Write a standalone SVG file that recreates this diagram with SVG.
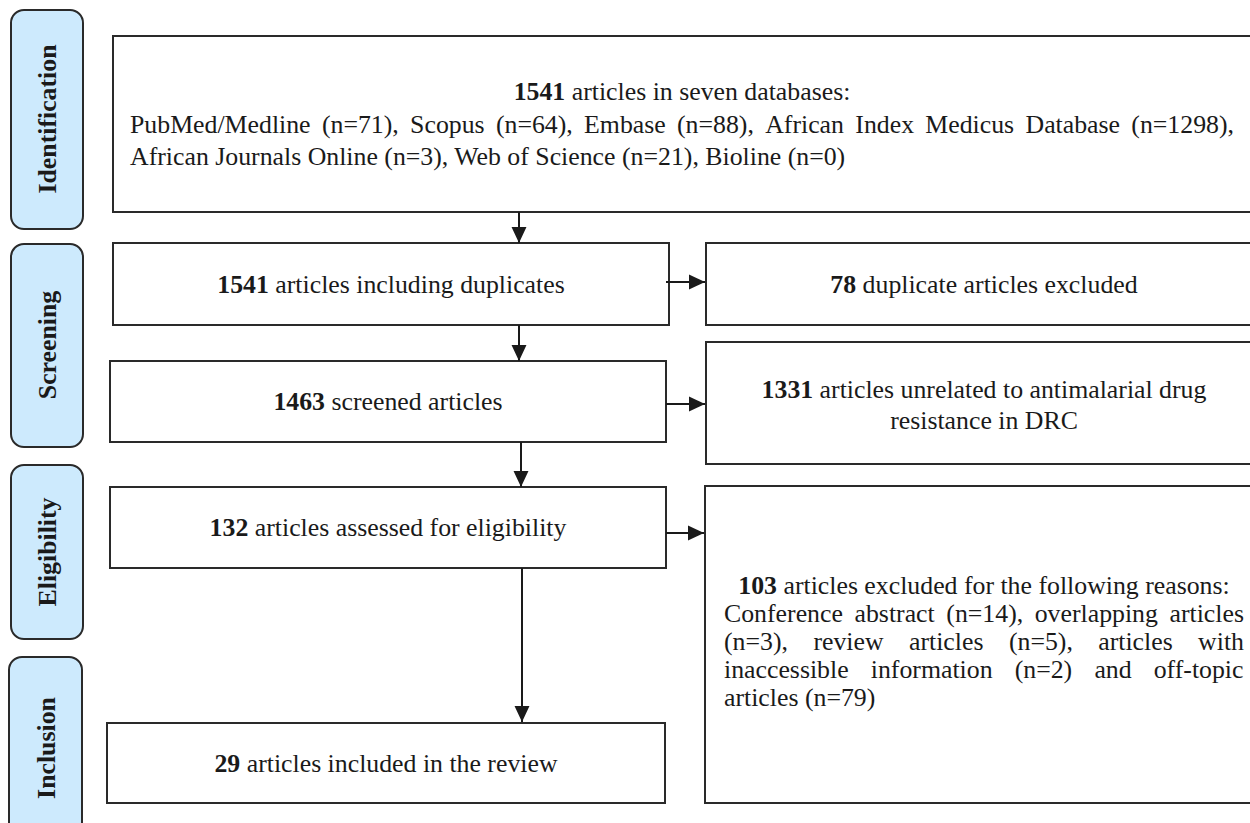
<svg xmlns="http://www.w3.org/2000/svg" width="1250" height="823" viewBox="0 0 1250 823">
<style>
.t{font-family:"Liberation Serif","Times New Roman",serif;font-size:25.8px;fill:#1a1a1a}
.b{font-weight:bold}
.c{text-anchor:middle}
.box{fill:#fff;stroke:#2a2a2a;stroke-width:2}
.pill{fill:#cdeafd;stroke:#2a2a2a;stroke-width:2}
.lab{font-family:"Liberation Serif","Times New Roman",serif;font-size:25.8px;font-weight:bold;fill:#1a1a1a;text-anchor:middle}
.conn{stroke:#1a1a1a;stroke-width:2;fill:none}
</style>
<defs>
<marker id="ah" markerUnits="userSpaceOnUse" markerWidth="16" markerHeight="16" viewBox="0 0 15 14" refX="15" refY="7" orient="auto">
<path d="M0,0 L15,7 L0,14 Z" fill="#1a1a1a"/>
</marker>
</defs>
<rect width="1250" height="823" fill="#fff"/>

<g id="stage-identification">
<rect class="pill" x="11" y="10" width="72" height="219" rx="13"/>
<text class="lab" transform="translate(56,119) rotate(-90)">Identification</text>
</g>
<g id="stage-screening">
<rect class="pill" x="11" y="244" width="72" height="203" rx="13"/>
<text class="lab" transform="translate(56,345) rotate(-90)">Screening</text>
</g>
<g id="stage-eligibility">
<rect class="pill" x="11" y="465" width="72" height="174" rx="13"/>
<text class="lab" transform="translate(56,552) rotate(-90)">Eligibility</text>
</g>
<g id="stage-inclusion">
<rect class="pill" x="9" y="657" width="73" height="185" rx="13"/>
<text class="lab" transform="translate(55,748) rotate(-90)">Inclusion</text>
</g>

<g id="node-identification">
<rect class="box" x="113" y="36" width="1140" height="176"/>
<text class="t c" x="682" y="100"><tspan class="b">1541</tspan> articles in seven databases:</text>
<text class="t" y="132.5"><tspan x="130">PubMed/Medline</tspan><tspan x="321.9">(n=71),</tspan><tspan x="410.1">Scopus</tspan><tspan x="495.9">(n=64),</tspan><tspan x="584.1">Embase</tspan><tspan x="677">(n=88),</tspan><tspan x="765.2">African</tspan><tspan x="855.3">Index</tspan><tspan x="925.3">Medicus</tspan><tspan x="1025.5">Database</tspan><tspan x="1131.3">(n=1298),</tspan></text>
<text class="t" x="130" y="165">African Journals Online (n=3), Web of Science (n=21), Bioline (n=0)</text>
</g>

<g id="node-duplicates">
<rect class="box" x="113" y="243" width="556" height="82"/>
<text class="t c" x="391" y="293"><tspan class="b">1541</tspan> articles including duplicates</text>
</g>

<g id="node-dup-excluded">
<rect class="box" x="706" y="243" width="556" height="82"/>
<text class="t c" x="984" y="293"><tspan class="b">78</tspan> duplicate articles excluded</text>
</g>

<g id="node-screened">
<rect class="box" x="110" y="361" width="556" height="81"/>
<text class="t c" x="388" y="410"><tspan class="b">1463</tspan> screened articles</text>
</g>

<g id="node-unrelated">
<rect class="box" x="706" y="342" width="556" height="122"/>
<text class="t c" x="984" y="398"><tspan class="b">1331</tspan> articles unrelated to antimalarial drug</text>
<text class="t c" x="984" y="429">resistance in DRC</text>
</g>

<g id="node-eligibility">
<rect class="box" x="110" y="487" width="556" height="81"/>
<text class="t c" x="388" y="536"><tspan class="b">132</tspan> articles assessed for eligibility</text>
</g>

<g id="node-excluded">
<rect class="box" x="705" y="486" width="557" height="317"/>
<text class="t c" x="984" y="593.6"><tspan class="b">103</tspan> articles excluded for the following reasons:</text>
<text class="t" y="621.6"><tspan x="724">Conference</tspan><tspan x="854.5">abstract</tspan><tspan x="946.3">(n=14),</tspan><tspan x="1034.7">overlapping</tspan><tspan x="1169.5">articles</tspan></text>
<text class="t" y="649.6"><tspan x="724">(n=3),</tspan><tspan x="813.4">review</tspan><tspan x="909">articles</tspan><tspan x="1008.9">(n=5),</tspan><tspan x="1098.2">articles</tspan><tspan x="1198.1">with</tspan></text>
<text class="t" y="677.6"><tspan x="724">inaccessible</tspan><tspan x="870.8">information</tspan><tspan x="1014.7">(n=2)</tspan><tspan x="1094.4">and</tspan><tspan x="1153.7">off-topic</tspan></text>
<text class="t" x="724" y="705.6">articles (n=79)</text>
</g>

<g id="node-included">
<rect class="box" x="107" y="723" width="558" height="80"/>
<text class="t c" x="386" y="772"><tspan class="b">29</tspan> articles included in the review</text>
</g>

<g id="connectors">
<line class="conn" x1="519" y1="212" x2="519" y2="243" marker-end="url(#ah)"/>
<line class="conn" x1="519" y1="325" x2="519" y2="361" marker-end="url(#ah)"/>
<line class="conn" x1="521" y1="442" x2="521" y2="487" marker-end="url(#ah)"/>
<line class="conn" x1="522" y1="568" x2="522" y2="722" marker-end="url(#ah)"/>
<line class="conn" x1="666" y1="282" x2="705" y2="282" marker-end="url(#ah)"/>
<line class="conn" x1="666" y1="404" x2="705" y2="404" marker-end="url(#ah)"/>
<line class="conn" x1="666" y1="533" x2="704" y2="533" marker-end="url(#ah)"/>
</g>
</svg>
